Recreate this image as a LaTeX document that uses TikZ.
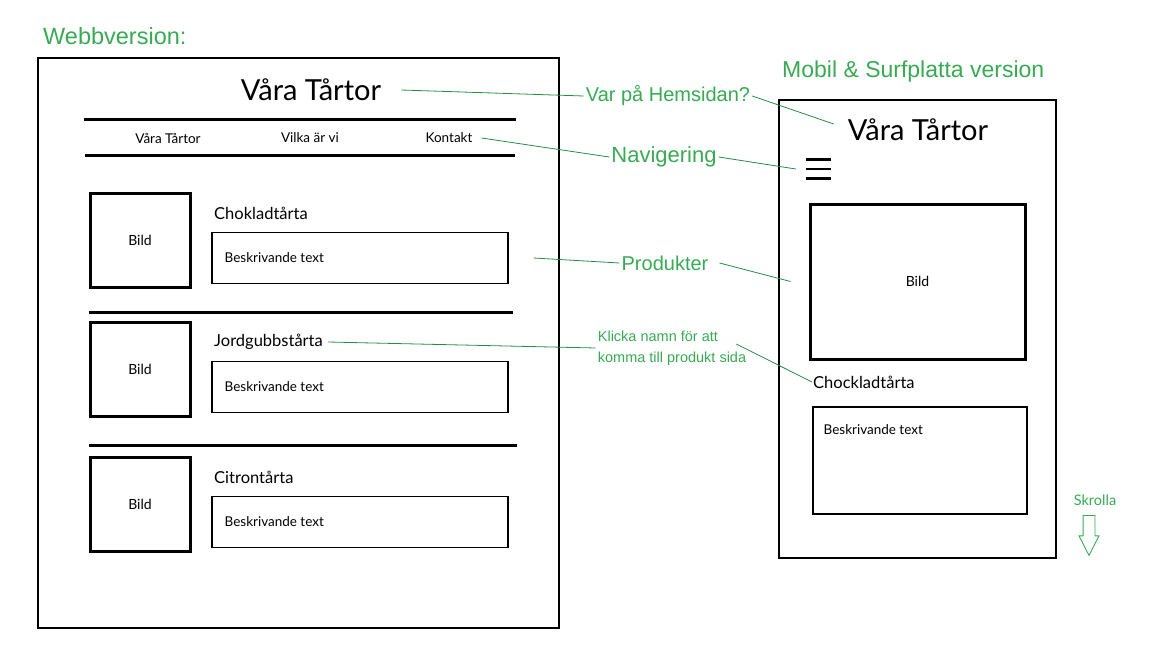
\documentclass[tikz,border=0pt]{standalone}
\usepackage{fontspec}
\setmainfont{Lato}
\newfontfamily\notefont{Liberation Sans}
\usetikzlibrary{positioning,shapes.arrows}
\definecolor{notegreen}{RGB}{56,170,84}
\definecolor{linegreen}{RGB}{40,140,70}

\begin{document}
\begin{tikzpicture}[x=1pt,y=-1pt,
  frame/.style={draw,line width=1.2pt,inner sep=0pt},
  bild/.style={draw,line width=3pt,inner sep=0pt,font=\fontsize{14}{16}\selectfont},
  textbox/.style={draw,line width=1.1pt,inner sep=0pt},
  bar/.style={line width=3pt},
  title/.style={font=\fontsize{29}{34}\selectfont,inner sep=2pt},
  cake/.style={font=\fontsize{16.5}{20}\selectfont,anchor=west,inner sep=1pt},
  small/.style={font=\fontsize{13.5}{16}\selectfont,inner sep=1pt},
  note/.style={text=notegreen,font=\notefont\fontsize{20}{24}\selectfont,inner sep=2pt},
  callout/.style={draw=linegreen,line width=0.8pt},
  scrollarrow/.style={single arrow,draw=notegreen,line width=0.9pt,shape border rotate=270,
    minimum height=40pt,inner sep=5.5pt,single arrow head extend=4pt,
    single arrow tip angle=54}]

\useasboundingbox (0,0) rectangle (1152,648);

% webbversion
\node[frame,minimum width=521pt,minimum height=570pt] (web) at (298.5,343) {};
\node[title] (webtitle) at (311,90) {Våra Tårtor};
\draw[bar] (84,119) -- (516,119);
\draw[bar] (85,155) -- (515,155);
\node[small] (nav1) at (168,138) {Våra Tårtor};
\node[small] (nav2) at (310,138) {Vilka är vi};
\node[small] (nav3) at (449,138) {Kontakt};

\foreach \y/\name/\i in {240/Chokladtårta/1, 369/Jordgubbstårta/2, 504/Citrontårta/3} {
  \node[bild,minimum width=100pt,minimum height=94pt] (bild\i) at (140,\y) {Bild};
  \node[cake] (cake\i) at (213,\y-27) {\name};
  \node[textbox,minimum width=296pt,minimum height=51pt] (besk\i) at (360,\y+18) {};
  \node[small,anchor=west] (text\i) at ([xshift=12pt]besk\i.west) {Beskrivande text};
}
\draw[bar] (89,312) -- (513,312);
\draw[bar] (89,445) -- (517,445);

% mobil
\node[frame,minimum width=277pt,minimum height=458pt] (mob) at (917.5,329) {};
\node[title] (mobtitle) at (918,130) {Våra Tårtor};
\node[minimum width=25pt,minimum height=18pt,inner sep=0pt] (burger) at (818.5,169) {};
\draw[line width=2.8pt] (burger.north west) -- (burger.north east)
  (burger.west) -- (burger.east) (burger.south west) -- (burger.south east);
\node[bild,minimum width=215pt,minimum height=155pt] (mobbild) at (917.5,281.5) {Bild};
\node[cake] (mobcake) at (812,382) {Chockladtårta};
\node[textbox,minimum width=214pt,minimum height=107pt] (mobbesk) at (920,460.5) {};
\node[small,anchor=west] (mobtext) at ([xshift=10pt,yshift=-23pt]mobbesk.north west) {Beskrivande text};

% anteckningar
\node[note,anchor=west,font=\notefont\fontsize{23.5}{28}\selectfont] (webnote) at (41,36) {Webbversion:};
\node[note,anchor=west,font=\notefont\fontsize{23}{28}\selectfont] (mobnote) at (780,72) {Mobil \& Surfplatta version};
\node[note] (varpa) at (668,96) {Var på Hemsidan?};
\node[note,font=\notefont\fontsize{22}{26}\selectfont] (navnote) at (664,157) {Navigering};
\node[note] (prodnote) at (665,263) {Produkter};
\node[note,align=left,font=\notefont\fontsize{14.5}{21}\selectfont] (klicka) at (672,348)
  {Klicka namn för att\\komma till produkt sida};
\node[small,text=notegreen,font=\fontsize{14.5}{17}\selectfont] (skrolla) at (1095,500) {Skrolla};
\node[scrollarrow,anchor=tail] (pil) at (1089,515) {};

\draw[callout] ([xshift=18pt]webtitle.east) -- (varpa.west);
\draw[callout] (varpa.east) -- ([xshift=-12pt,yshift=6pt]mobtitle.west);
\draw[callout] ([xshift=8pt]nav3.east) -- (navnote.west);
\draw[callout] (navnote.east) -- ([xshift=-10pt]burger.west);
\draw[callout] ([xshift=25pt]besk1.east) -- (prodnote.west);
\draw[callout] ([xshift=9pt]prodnote.east) -- ([xshift=-18pt]mobbild.west);
\draw[callout] ([xshift=4pt]cake2.east) -- (klicka.west);
\draw[callout] ([xshift=-12pt,yshift=4pt]klicka.east) -- (mobcake.west);
\end{tikzpicture}
\end{document}
